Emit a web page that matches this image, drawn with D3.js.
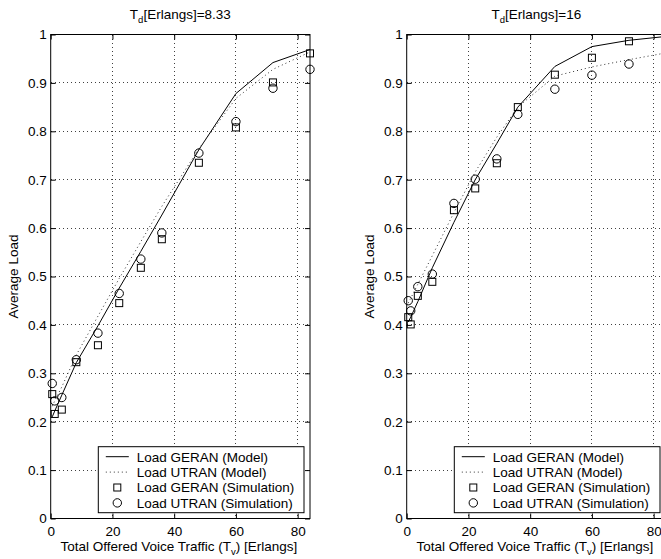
<!DOCTYPE html>
<html>
<head>
<meta charset="utf-8">
<script src="https://cdn.jsdelivr.net/npm/d3@7"></script>
<style>
  html, body { margin: 0; padding: 0; background: #fff; }
  svg { display: block; }
  text { font-family: "Liberation Sans", Arial, Helvetica, sans-serif; font-size: 13.5px; fill: #000; }
</style>
</head>
<body>
<svg id="chart" width="661" height="559"></svg>
<script>
// Offered voice traffic (Erlangs) at which model and simulation were evaluated
const traffic = [0.5, 1.3, 3.6, 8.3, 15.3, 22.2, 29.2, 36, 48, 60, 72, 84];

// Panel 1: T_d = 8.33 Erlangs
const geranModel1 = [0.210, 0.222, 0.255, 0.322, 0.398, 0.476, 0.552, 0.627, 0.762, 0.878, 0.942, 0.969];
const utranModel1 = [0.232, 0.243, 0.272, 0.338, 0.418, 0.496, 0.572, 0.645, 0.764, 0.868, 0.928, 0.964];
const geranSim1   = [0.257, 0.216, 0.225, 0.323, 0.358, 0.445, 0.518, 0.577, 0.735, 0.808, 0.901, 0.961];
const utranSim1   = [0.279, 0.243, 0.250, 0.328, 0.383, 0.465, 0.536, 0.590, 0.755, 0.820, 0.889, 0.928];

// Panel 2: T_d = 16 Erlangs
const geranModel2 = [0.406, 0.416, 0.448, 0.518, 0.612, 0.700, 0.775, 0.850, 0.934, 0.975, 0.988, 0.996];
const utranModel2 = [0.445, 0.455, 0.484, 0.543, 0.632, 0.716, 0.788, 0.850, 0.914, 0.933, 0.948, 0.962];
const geranSim2   = [0.416, 0.401, 0.460, 0.489, 0.637, 0.682, 0.734, 0.850, 0.917, 0.952, 0.986, 0.995];
const utranSim2   = [0.450, 0.429, 0.479, 0.505, 0.651, 0.701, 0.743, 0.835, 0.887, 0.916, 0.939, 0.950];

const xTicks = [0, 20, 40, 60, 80];
const yTicks = [0, 0.1, 0.2, 0.3, 0.4, 0.5, 0.6, 0.7, 0.8, 0.9, 1];
const legendLabels = ["Load GERAN (Model)", "Load UTRAN (Model)", "Load GERAN (Simulation)", "Load UTRAN (Simulation)"];

const panels = [
  { td: "8.33", left: 50.7, geranModel: geranModel1, utranModel: utranModel1, geranSim: geranSim1, utranSim: utranSim1 },
  { td: "16",   left: 406.7, geranModel: geranModel2, utranModel: utranModel2, geranSim: geranSim2, utranSim: utranSim2 }
];

const svg = d3.select("#chart");
const plotW = 259.3, plotTop = 34.5, plotBottom = 518.5;
const DOT = "1,3";

panels.forEach(p => {
  const x = d3.scaleLinear().domain([0, 84]).range([p.left, p.left + plotW]);
  const y = d3.scaleLinear().domain([0, 1]).range([plotBottom, plotTop]);
  const g = svg.append("g");

  // dotted grid
  g.append("g").selectAll("line").data(xTicks.filter(t => t > 0)).join("line")
    .attr("x1", d => x(d)).attr("x2", d => x(d)).attr("y1", plotTop).attr("y2", plotBottom)
    .attr("stroke", "#000").attr("stroke-opacity", 0.75).attr("stroke-width", 1)
    .attr("stroke-dasharray", DOT).attr("shape-rendering", "crispEdges");
  g.append("g").selectAll("line").data(yTicks.filter(t => t > 0 && t < 1)).join("line")
    .attr("x1", x(0)).attr("x2", x(84)).attr("y1", d => y(d)).attr("y2", d => y(d))
    .attr("stroke", "#000").attr("stroke-opacity", 0.75).attr("stroke-width", 1)
    .attr("stroke-dasharray", DOT).attr("shape-rendering", "crispEdges");

  // axes with inward ticks on all four sides
  const fmtY = d => (d === 0 || d === 1) ? String(d) : d3.format(".1f")(d);
  const axB = g.append("g").attr("transform", `translate(0,${plotBottom})`)
    .call(d3.axisBottom(x).tickValues(xTicks).tickSizeInner(-5).tickSizeOuter(0).tickPadding(7.5));
  const axT = g.append("g").attr("transform", `translate(0,${plotTop})`)
    .call(d3.axisTop(x).tickValues(xTicks).tickSizeInner(-5).tickSizeOuter(0).tickFormat(""));
  const axL = g.append("g").attr("transform", `translate(${x(0)},0)`)
    .call(d3.axisLeft(y).tickValues(yTicks).tickFormat(fmtY).tickSizeInner(-5).tickSizeOuter(0).tickPadding(4));
  const axR = g.append("g").attr("transform", `translate(${x(84)},0)`)
    .call(d3.axisRight(y).tickValues(yTicks).tickSizeInner(-5).tickSizeOuter(0).tickFormat(""));
  [axB, axT, axL, axR].forEach(a => {
    a.select(".domain").remove();
    a.selectAll("line").attr("stroke", "#000");
    a.selectAll("text").attr("font-size", "13.5px").attr("font-family", null).attr("fill", "#000");
  });
  g.append("rect").attr("x", x(0)).attr("y", plotTop).attr("width", plotW).attr("height", plotBottom - plotTop)
    .attr("fill", "none").attr("stroke", "#000").attr("stroke-width", 1);

  const pts = arr => arr.map((v, i) => [traffic[i], v]);
  const line = d3.line().x(d => x(d[0])).y(d => y(d[1]));

  g.append("path").attr("d", line(pts(p.geranModel)))
    .attr("fill", "none").attr("stroke", "#000").attr("stroke-width", 1);
  g.append("path").attr("d", line(pts(p.utranModel)))
    .attr("fill", "none").attr("stroke", "#333").attr("stroke-width", 1).attr("stroke-dasharray", DOT);

  g.append("g").selectAll("rect").data(pts(p.geranSim)).join("rect")
    .attr("x", d => x(d[0]) - 3.5).attr("y", d => y(d[1]) - 3.5)
    .attr("width", 7).attr("height", 7)
    .attr("fill", "none").attr("stroke", "#000").attr("stroke-width", 1);
  g.append("g").selectAll("circle").data(pts(p.utranSim)).join("circle")
    .attr("cx", d => x(d[0])).attr("cy", d => y(d[1])).attr("r", 4.2)
    .attr("fill", "none").attr("stroke", "#000").attr("stroke-width", 1);

  // title: T_d[Erlangs]=...
  const cx = p.left + plotW / 2;
  const title = g.append("text").attr("x", cx).attr("y", 19).attr("text-anchor", "middle");
  title.append("tspan").text("T");
  title.append("tspan").attr("font-size", "9.5px").attr("dy", 4).text("d");
  title.append("tspan").attr("dy", -4).text("[Erlangs]=" + p.td);

  // x label with subscript v
  const xl = g.append("text").attr("x", cx - 1.5).attr("y", 550.5).attr("text-anchor", "middle");
  xl.append("tspan").text("Total Offered Voice Traffic (T");
  xl.append("tspan").attr("font-size", "9.5px").attr("dy", 4).text("v");
  xl.append("tspan").attr("dy", -4).text(") [Erlangs]");

  g.append("text").attr("transform", `translate(${p.left - 32.5},${(plotTop + plotBottom) / 2}) rotate(-90)`)
    .attr("text-anchor", "middle").text("Average Load");

  // legend
  const lx = p.left + 47.6, ly = 446.7, lw = 205.7, lh = 66;
  const lg = g.append("g");
  lg.append("rect").attr("x", lx).attr("y", ly).attr("width", lw).attr("height", lh)
    .attr("fill", "#fff").attr("stroke", "#000").attr("stroke-width", 1);
  legendLabels.forEach((lab, i) => {
    const cy = ly + 10 + i * 15.4;
    if (i === 0) lg.append("line").attr("x1", lx + 7.5).attr("x2", lx + 30.5).attr("y1", cy).attr("y2", cy)
      .attr("stroke", "#000").attr("stroke-width", 1);
    if (i === 1) lg.append("line").attr("x1", lx + 7.5).attr("x2", lx + 30.5).attr("y1", cy).attr("y2", cy)
      .attr("stroke", "#333").attr("stroke-width", 1).attr("stroke-dasharray", DOT);
    if (i === 2) lg.append("rect").attr("x", lx + 19 - 3.5).attr("y", cy - 3.5).attr("width", 7).attr("height", 7)
      .attr("fill", "none").attr("stroke", "#000").attr("stroke-width", 1);
    if (i === 3) lg.append("circle").attr("cx", lx + 19).attr("cy", cy).attr("r", 4.2)
      .attr("fill", "none").attr("stroke", "#000").attr("stroke-width", 1);
    lg.append("text").attr("x", lx + 38.4).attr("y", cy + 4.8).text(lab);
  });
});
</script>
</body>
</html>
